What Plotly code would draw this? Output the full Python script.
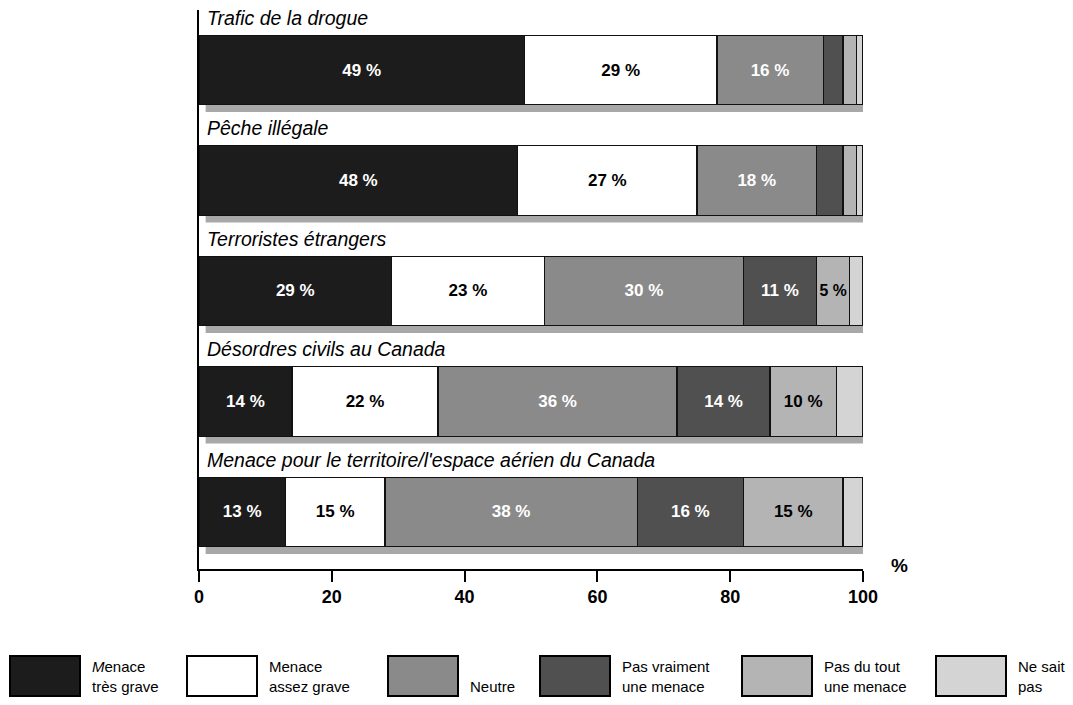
import plotly.graph_objects as go

categories = [
    "Trafic de la drogue",
    "Pêche illégale",
    "Terroristes étrangers",
    "Désordres civils au Canada",
    "Menace pour le territoire/l'espace aérien du Canada",
]
series_names = [
    "Menace très grave",
    "Menace assez grave",
    "Neutre",
    "Pas vraiment une menace",
    "Pas du tout une menace",
    "Ne sait pas",
]
tres_grave = [49, 48, 29, 14, 13]
assez_grave = [29, 27, 23, 22, 15]
neutre = [16, 18, 30, 36, 38]
pas_vraiment = [3, 4, 11, 14, 16]
pas_du_tout = [2, 2, 5, 10, 15]
ne_sait_pas = [1, 1, 2, 4, 3]
x_ticks = [0, 20, 40, 60, 80, 100]

series_values = [tres_grave, assez_grave, neutre, pas_vraiment, pas_du_tout, ne_sait_pas]
colors = ["#1c1c1c", "#ffffff", "#8a8a8a", "#505050", "#b4b4b4", "#d4d4d4"]
text_colors = ["white", "black", "white", "white", "black", "black"]
legend_lines = [
    ("<i>M</i>enace", "très grave"),
    ("Menace", "assez grave"),
    ("", "Neutre"),
    ("Pas vraiment", "une menace"),
    ("Pas du tout", "une menace"),
    ("Ne sait", "pas"),
]

ypos = list(range(len(categories)))
BAR_W = 0.63

# page coordinates helpers (plot area: x 199..863, y 10..569 in screen px)
PX0, PX1, PY0, PY1 = 199, 863, 10, 569
def px(x):
    return (x - PX0) / (PX1 - PX0)
def py(y):
    return (PY1 - y) / (PY1 - PY0)

fig = go.Figure()
for name, vals, col, tcol in zip(series_names, series_values, colors, text_colors):
    fig.add_trace(go.Bar(
        y=ypos, x=vals, orientation="h", name=name, width=BAR_W,
        marker=dict(color=col, line=dict(color="#111111", width=1.2)),
        text=[f"<b>{v} %</b>" if v >= 5 else "" for v in vals],
        textposition="inside", insidetextanchor="middle", textangle=0,
        textfont=dict(family="Liberation Sans", size=17, color=tcol),
        showlegend=False, hoverinfo="skip",
    ))

shapes = []
annotations = []
for i, cat in enumerate(categories):
    total = sum(s[i] for s in series_values)
    shapes.append(dict(type="rect", xref="x", yref="y", layer="below",
                       x0=1, x1=total + 1, y0=i + BAR_W / 2, y1=i + BAR_W / 2 + 0.065,
                       fillcolor="#a8a8a8", line=dict(width=0)))
    shapes.append(dict(type="rect", xref="x", yref="y", layer="below",
                       x0=total, x1=total + 1, y0=i - BAR_W / 2 + 0.05, y1=i + BAR_W / 2 + 0.065,
                       fillcolor="#a8a8a8", line=dict(width=0)))
    annotations.append(dict(xref="x", yref="y", x=0, y=i - BAR_W / 2 - 0.16,
                            text=f"<i>{cat}</i>", showarrow=False, xanchor="left",
                            xshift=6, yanchor="middle",
                            font=dict(family="Liberation Sans", size=19.5, color="black")))

annotations.append(dict(xref="paper", yref="paper", x=px(899), y=py(565),
                        text="<b>%</b>", showarrow=False, xanchor="center", yanchor="middle",
                        font=dict(family="Liberation Sans", size=19, color="black")))

box_x = [10, 187, 388, 540, 742, 936]
box_w = 70
for bx, col, (l1, l2) in zip(box_x, colors, legend_lines):
    shapes.append(dict(type="rect", xref="paper", yref="paper",
                       x0=px(bx), x1=px(bx + box_w), y0=py(696), y1=py(656),
                       fillcolor=col, line=dict(color="black", width=2)))
    txt = f"{l1}<br>{l2}" if l1 else l2
    ty = py(676) if l1 else py(686)
    annotations.append(dict(xref="paper", yref="paper", x=px(bx + box_w + 10), y=ty,
                            text=txt, showarrow=False, xanchor="left", yanchor="middle",
                            align="left",
                            font=dict(family="Liberation Sans", size=15, color="black")))

W, H, OFF = 1073, 705, 0
fig.update_layout(
    barmode="stack",
    width=W, height=H,
    margin=dict(l=PX0 - OFF, r=W - (PX1 - OFF), t=PY0 - OFF, b=H - (PY1 - OFF)),
    paper_bgcolor="white", plot_bgcolor="white",
    shapes=shapes, annotations=annotations,
    hovermode=False,
    xaxis=dict(range=[0, 100], tickvals=x_ticks, ticktext=[f"<b>{t}</b>" for t in x_ticks],
               showgrid=False, zeroline=False, showline=True, linecolor="black", linewidth=1.5,
               ticks="outside", ticklen=11, tickwidth=1.5, tickcolor="black",
               tickfont=dict(family="Liberation Sans", size=18, color="black")),
    yaxis=dict(range=[4.516, -0.543], showticklabels=False, showgrid=False, zeroline=False,
               showline=True, linecolor="black", linewidth=1.5, ticks=""),
)

fig.write_html("out.html", config={"displayModeBar": False},
               post_script="document.body.style.margin='0';document.body.style.overflow='hidden';")
